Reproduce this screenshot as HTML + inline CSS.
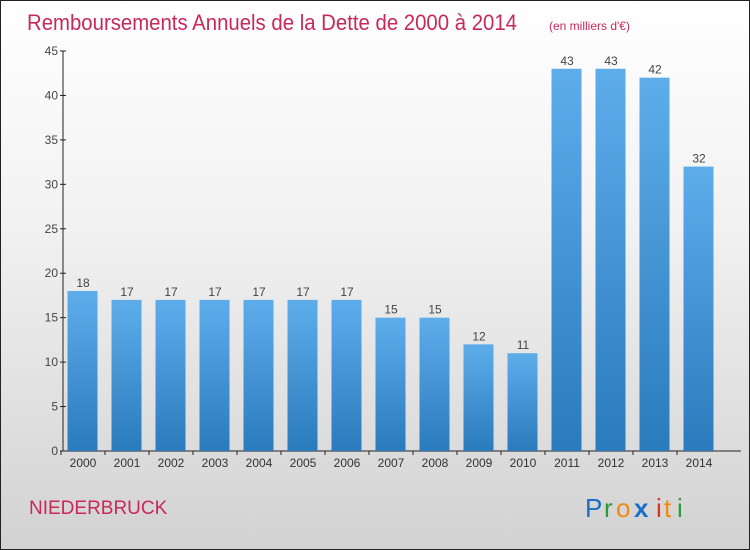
<!DOCTYPE html>
<html><head><meta charset="utf-8"><style>
body{margin:0;}
#wrap{position:relative;width:750px;height:550px;box-sizing:border-box;border:1px solid #222;background:linear-gradient(#ffffff 0%,#f2f2f2 40%,#d2d2d2 100%);overflow:hidden;font-family:"Liberation Sans",sans-serif;}
</style></head><body>
<div id="wrap">
<svg id="chart" width="750" height="550" style="position:absolute;left:0;top:0">
<defs><linearGradient id="bg" x1="0" y1="0" x2="0" y2="1"><stop offset="0" stop-color="#5eadeb"/><stop offset="1" stop-color="#2a7bbd"/></linearGradient></defs>
<text x="26" y="29" font-size="22" fill="#c8285a" textLength="490" lengthAdjust="spacingAndGlyphs">Remboursements Annuels de la Dette de 2000 à 2014</text>
<text x="548" y="29" font-size="12" fill="#c8285a">(en milliers d'€)</text>
<text x="28" y="513" font-size="19" fill="#c8285a">NIEDERBRUCK</text>
<g font-size="26" font-family="'Liberation Sans',sans-serif">
<text x="584" y="516" fill="#1a6fc4">P</text><text x="603" y="516" fill="#2a9a3a">r</text><text x="615" y="516" fill="#f08a10">o</text><text x="633" y="516" fill="#1a6fc4" font-weight="bold">x</text><text x="655" y="516" fill="#e03020">i</text><text x="663" y="516" fill="#f08a10">t</text><text x="676" y="516" fill="#2a9a3a">i</text>
</g>
<g id="axes"></g><g id="bars"></g>
</svg>
</div>
<script>
const categories=["2000","2001","2002","2003","2004","2005","2006","2007","2008","2009","2010","2011","2012","2013","2014"];
const values=[18,17,17,17,17,17,17,15,15,12,11,43,43,42,32];
const yTicks=[0,5,10,15,20,25,30,35,40,45];
const NS="http://www.w3.org/2000/svg";
const x0=62,y0=450,yTop=50,yMax=45,step=44,bw=30,firstC=82;
const y=v=>y0-(v/yMax)*(y0-yTop);
const xc=i=>firstC+i*step;
function mk(t,a,p){const e=document.createElementNS(NS,t);for(const k in a)e.setAttribute(k,a[k]);p.appendChild(e);return e;}
const ax=document.getElementById('axes'),bs=document.getElementById('bars');
const yl=mk('line',{x1:x0,y1:yTop,x2:x0,y2:y0,stroke:'#222','stroke-width':1},ax);


const xl=mk('line',{x1:x0,y1:y0,x2:740,y2:y0,stroke:'#222','stroke-width':1},ax);


yTicks.forEach(v=>{
  mk('line',{x1:x0-3,y1:y(v),x2:x0+3,y2:y(v),stroke:'#222'},ax);
  const t=mk('text',{x:x0-5,y:y(v)+4,'font-size':12,fill:'#444','text-anchor':'end'},ax);t.textContent=v;
  
  
});
categories.forEach((c,i)=>{
  mk('line',{x1:xc(i)-step/2,y1:y0,x2:xc(i)-step/2,y2:y0+4,stroke:'#222'},ax);
  const t=mk('text',{x:xc(i),y:y0+16,'font-size':12,fill:'#333','text-anchor':'middle'},ax);t.textContent=c;
  
  
  const r=mk('rect',{x:xc(i)-bw/2-0.5,y:y(values[i]),width:bw,height:y0-y(values[i]),fill:'url(#bg)'},bs);
  
  
  const l=mk('text',{x:xc(i),y:y(values[i])-4,'font-size':12,fill:'#444','text-anchor':'middle'},bs);l.textContent=values[i];
  
  
});
</script>
</body></html>
